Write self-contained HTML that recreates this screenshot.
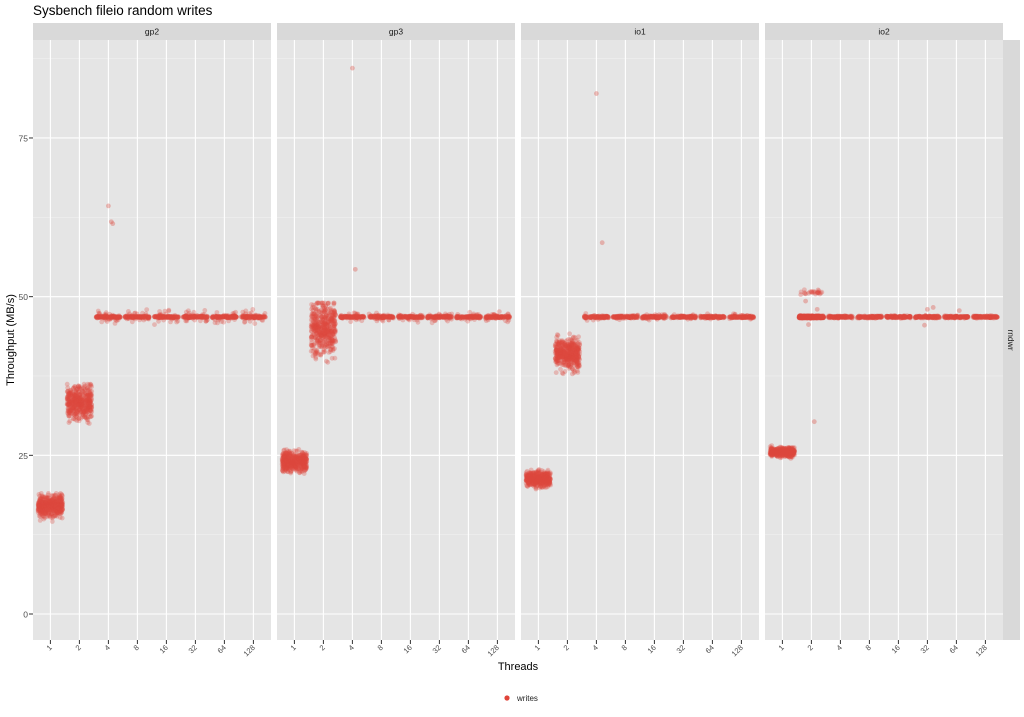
<!DOCTYPE html>
<html><head><meta charset="utf-8"><style>
body{margin:0;background:#fff;}
svg{display:block;font-family:"Liberation Sans",sans-serif;}
</style></head><body>
<svg id="s" width="1024" height="717" xmlns="http://www.w3.org/2000/svg">
<text x="33" y="15" font-size="13.5" fill="#000">Sysbench fileio random writes</text>
<g id="g"></g>
<text x="518" y="670" font-size="11" text-anchor="middle" fill="#000">Threads</text>
<text transform="translate(14,340) rotate(-90)" font-size="11" text-anchor="middle" fill="#000">Throughput (MB/s)</text>
<circle cx="507" cy="698" r="2.6" fill="#E0443A"/>
<text x="517" y="701" font-size="8" fill="#222">writes</text>
</svg>
<script>
(function(){
var NS="http://www.w3.org/2000/svg",g=document.getElementById('g');
function el(t,a,txt){var e=document.createElementNS(NS,t);for(var k in a)e.setAttribute(k,a[k]);if(txt!=null)e.textContent=txt;g.appendChild(e);return e;}
var seed=7;function rnd(){seed=(seed*16807)%2147483647;return seed/2147483647;}
function gauss(){return (rnd()+rnd()+rnd()+rnd()-2)/0.58;}
var T0=40,B0=640,W=238,lefts=[33,277,521,765];
function Y(v){return 614-v*6.347;}
var names=["gp2","gp3","io1","io2"],labs=["1","2","4","8","16","32","64","128"];
[0,25,50,75].forEach(function(v){el('text',{x:28,y:Y(v)+3.5,'font-size':8.5,'text-anchor':'end',fill:'#4d4d4d'},v);el('line',{x1:29,x2:33,y1:Y(v),y2:Y(v),stroke:'#333','stroke-width':1});});
var cfg=[
 [[17,0.8,14.5,19],[33.3,1.3,30,36.2],[46.8,0.5,45.3,48.6]],
 [[24,0.8,21.3,26.3],[45,2.0,39.3,49],[46.8,0.35,45.5,48.5]],
 [[21.3,0.6,19,23.2],[41,1.2,37.8,44.5],[46.8,0.2,46,47.5]],
 [[25.5,0.35,24.4,26.6],[46.8,0.1,46.6,47],[46.8,0.1,46.6,47]]];
var outl=[[[3,64.3],[3.15,61.5],[3.1,61.8]],[[3,86],[3.1,54.3]],[[3,82],[3.2,58.5]],[[1.8,49.3],[2.1,30.3],[1.9,45.6],[5.9,45.5],[6,48],[6.2,48.3],[7.1,47.8],[2.2,48]]];
for(var p=0;p<4;p++){
 var L=lefts[p];
 el('rect',{x:L,y:23,width:W,height:17,fill:'#d9d9d9'});
 el('text',{x:L+W/2,y:34.5,'font-size':8.5,'text-anchor':'middle',fill:'#1a1a1a'},names[p]);
 el('rect',{x:L,y:T0,width:W,height:B0-T0,fill:'#e5e5e5'});
 [12.5,37.5,62.5,87.5].forEach(function(v){el('line',{x1:L,x2:L+W,y1:Y(v),y2:Y(v),stroke:'#f4f4f4','stroke-width':0.5});});
 [0,25,50,75].forEach(function(v){el('line',{x1:L,x2:L+W,y1:Y(v),y2:Y(v),stroke:'#fff','stroke-width':1.1});});
 for(var i=0;i<8;i++){var x=L+(i+0.6)*29;
  el('line',{x1:x,x2:x,y1:T0,y2:B0,stroke:'#fff','stroke-width':1.1});
  el('line',{x1:x,x2:x,y1:B0,y2:B0+4,stroke:'#333','stroke-width':1});
  el('text',{transform:'translate('+(x+2)+','+(B0+8)+') rotate(-45)','font-size':7.5,'text-anchor':'end',fill:'#4d4d4d'},labs[i]);}
 var C=cfg[p];
 for(var i=0;i<8;i++){
  var c=i==0?C[0]:i==1?C[1]:C[2],n=i<2?450:140;
  for(var k=0;k<n;k++){
   var v=c[0]+gauss()*c[1];if(i>=2&&rnd()<0.8)v=46.8+gauss()*0.08;
   v=Math.max(c[2],Math.min(c[3],v));
   var xx=L+(i+0.6+(rnd()-0.5)*0.85)*29;
   el('circle',{cx:xx.toFixed(1),cy:Y(v).toFixed(1),r:2.4,fill:'#DD4A40','fill-opacity':0.3});}
  if(p==3&&i==1){for(var k=0;k<25;k++){var xx=L+(1.6+(rnd()-0.5)*0.75)*29;el('circle',{cx:xx,cy:Y(50.7+gauss()*0.2),r:2.4,fill:'#DD4A40','fill-opacity':0.3});}}
 }
 outl[p].forEach(function(o){el('circle',{cx:L+(o[0]-0.4)*29,cy:Y(o[1]),r:2.4,fill:'#DD4A40','fill-opacity':0.35});});
}
el('rect',{x:1003,y:40,width:17,height:600,fill:'#d9d9d9'});
el('text',{transform:'translate(1008,340) rotate(90)','font-size':8.5,'text-anchor':'middle',fill:'#1a1a1a'},'rndwr');
})();
</script>
</body></html>
